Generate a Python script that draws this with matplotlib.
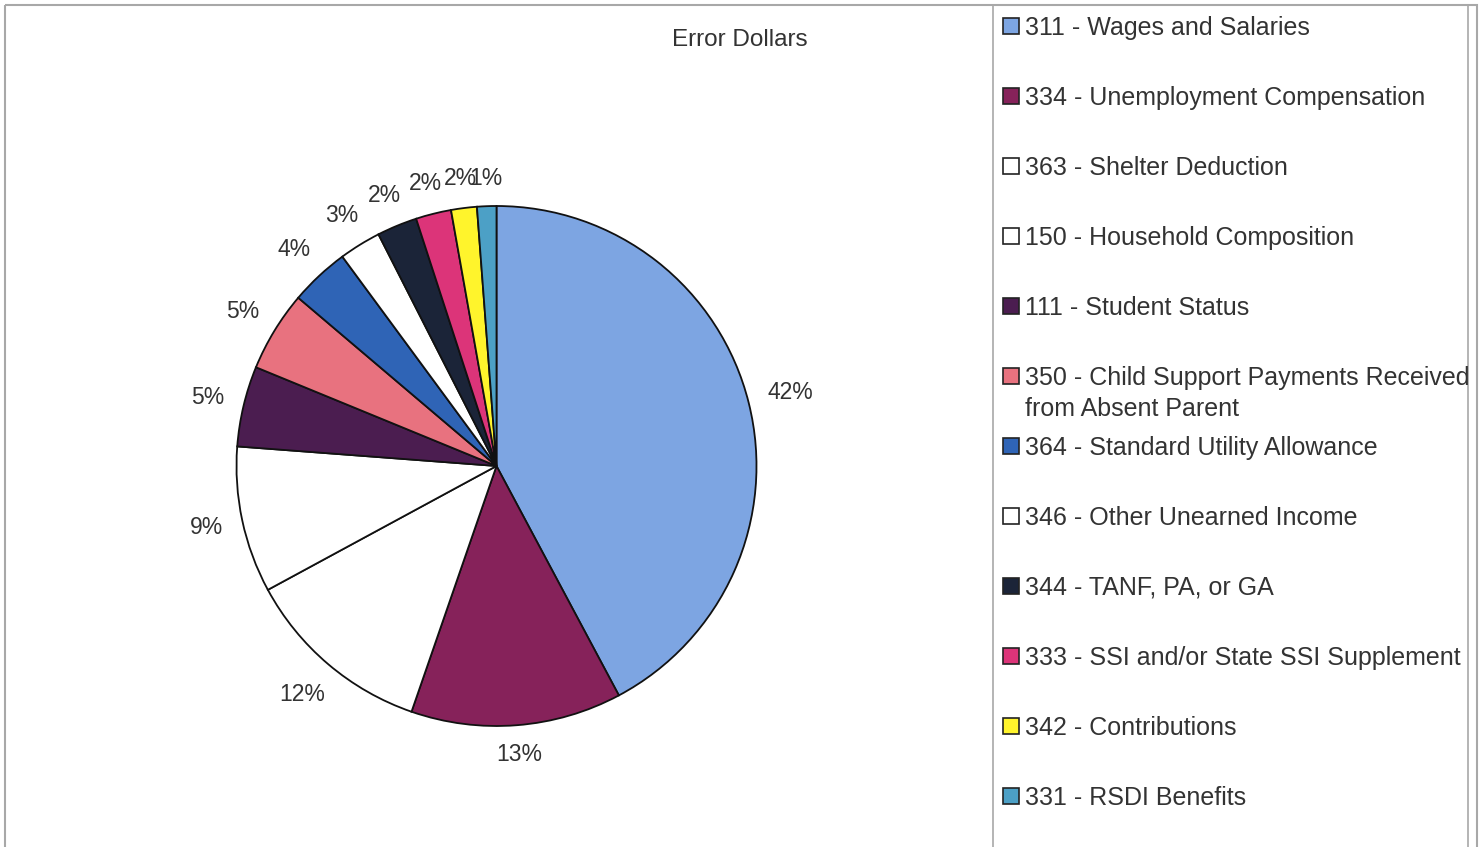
import numpy as np
import matplotlib.pyplot as plt
from matplotlib.patches import Rectangle

plt.rcParams["font.family"] = ["Liberation Sans", "DejaVu Sans"]

# Error dollar shares, in pie order (clockwise from 12 o'clock)
codes = ["311", "334", "363", "150", "111", "350", "364", "346", "344", "333", "342", "331"]
names = [
    "Wages and Salaries",
    "Unemployment Compensation",
    "Shelter Deduction",
    "Household Composition",
    "Student Status",
    "Child Support Payments Received\nfrom Absent Parent",
    "Standard Utility Allowance",
    "Other Unearned Income",
    "TANF, PA, or GA",
    "SSI and/or State SSI Supplement",
    "Contributions",
    "RSDI Benefits",
]
shares = [42.2, 13.1, 11.8, 9.1, 5.0, 5.0, 3.7, 2.6, 2.5, 2.2, 1.6, 1.2]
pct_labels = ["42%", "13%", "12%", "9%", "5%", "5%", "4%", "3%", "2%", "2%", "2%", "1%"]
colours = [
    "#7DA5E2", "#86225A", "#FFFFFF", "#FFFFFF", "#4B1D50", "#E8727F",
    "#2F64B6", "#FFFFFF", "#1B2438", "#DC3479", "#FFF42C", "#4CA0C6",
]
title = "Error Dollars"

W, H = 1482, 847
fig = plt.figure(figsize=(W / 100, H / 100), dpi=100)

# background axes in pixel coordinates for frames and legend
bg = fig.add_axes([0, 0, 1, 1])
bg.set_xlim(0, W)
bg.set_ylim(H, 0)
bg.axis("off")

frame_col = "#A8A8A8"
bg.add_patch(Rectangle((5, 5), 1472, 900, fill=False, edgecolor=frame_col, lw=1.5))
bg.add_patch(Rectangle((993, 5), 475, 900, fill=False, edgecolor=frame_col, lw=1.2))

bg.text(740, 40, title, ha="center", va="center", fontsize=17.5, color="#333333")

# legend entries, one row every 70 px
for i, (code, name, c) in enumerate(zip(codes, names, colours)):
    y = 26 + 70 * i
    bg.add_patch(Rectangle((1003, y - 8), 16, 16, facecolor=c, edgecolor="#222222", lw=1.2))
    bg.text(1025, y - 10, f"{code} - {name}", ha="left", va="top",
            fontsize=18, color="#333333", linespacing=1.35)

# pie
cx, cy, R = 496.5, 466, 260
half = 330
ax = fig.add_axes([(cx - half) / W, (H - cy - half) / H, 2 * half / W, 2 * half / H])
wedges, _ = ax.pie(
    shares,
    colors=colours,
    startangle=90,
    counterclock=False,
    wedgeprops=dict(edgecolor="#111111", linewidth=1.3),
)
ax.set_xlim(-half / R, half / R)
ax.set_ylim(-half / R, half / R)
ax.set_aspect("equal")

# percentage labels: box kept a fixed gap outside the rim
renderer = fig.canvas.get_renderer()
gap = 18
for w, lab in zip(wedges, pct_labels):
    mid = np.deg2rad((w.theta1 + w.theta2) / 2)
    t = ax.text(0, 0, lab, ha="center", va="center", fontsize=16.5, color="#333333")
    bb = t.get_window_extent(renderer)
    hw, hh = bb.width / 2, bb.height / 2 - 2
    off = R + gap + hw * abs(np.cos(mid)) + hh * abs(np.sin(mid))
    t.set_position((off / R * np.cos(mid), off / R * np.sin(mid)))

fig.savefig("out.png", dpi=100)
